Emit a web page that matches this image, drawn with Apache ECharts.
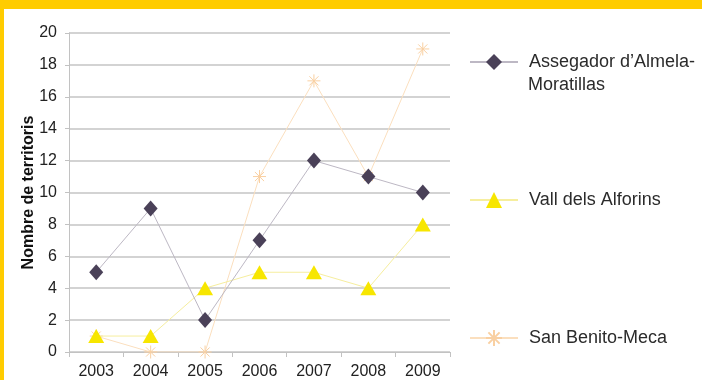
<!DOCTYPE html>
<html>
    <head>
        <meta charset="UTF-8">
        <title>Nombre de territoris</title>
        <script src="https://cdn.jsdelivr.net/npm/echarts@6/dist/echarts.min.js"></script>
        <style>
            html, body {
                margin: 0;
                padding: 0;
                background: #ffffff;
            }
            #chart {
                width: 702px;
                height: 380px;
            }
        </style>
    </head>
    <body>
        <div id="chart"></div>
        <script>
            const years = ['2003', '2004', '2005', '2006', '2007', '2008', '2009'];
            const assegador = [5, 9, 2, 7, 12, 11, 10];
            const vallAlforins = [1, 1, 4, 5, 5, 4, 8];
            const sanBenito = [1, 0, 0, 11, 17, 11, 19];

            const seriesNames = ['Assegador d\u2019Almela-Moratillas', 'Vall dels Alforins', 'San Benito-Meca'];

            const starPath = 'path://M0,5L10,5M5,0L5,10M1.5,1.5L8.5,8.5M8.5,1.5L1.5,8.5';
            const font = '"Liberation Sans", Arial, sans-serif';

            // one legend block per series so each can sit at its own height
            function legendFor(name, top, label) {
                return {
                    data: [name],
                    orient: 'vertical',
                    left: 464,
                    top: top,
                    itemWidth: 48,
                    itemHeight: 20,
                    selectedMode: false,
                    formatter: label ? function () { return label; } : '{name}',
                    textStyle: {
                        fontFamily: font,
                        fontSize: 18,
                        color: '#2b2b2b',
                        lineHeight: 22,
                        padding: [0, 0, 0, 6]
                    }
                };
            }

            const chart = echarts.init(document.getElementById('chart'));

            chart.setOption({
                backgroundColor: '#ffffff',
                animation: false,
                graphic: [
                    { type: 'rect', shape: { x: 0, y: 0, width: 702, height: 9 }, style: { fill: '#ffcc00' }, z: 100 },
                    { type: 'rect', shape: { x: 0, y: 0, width: 4, height: 380 }, style: { fill: '#ffcc00' }, z: 100 },
                    {
                        type: 'text',
                        left: 528,
                        top: 76,
                        style: { text: 'Moratillas', font: '18px ' + font, fill: '#2b2b2b' }
                    }
                ],
                grid: {
                    left: 69,
                    right: 252,
                    top: 33,
                    bottom: 27
                },
                legend: [
                    legendFor(seriesNames[0], 46, 'Assegador d\u2019Almela-'),
                    legendFor(seriesNames[1], 184),
                    legendFor(seriesNames[2], 322)
                ],
                xAxis: {
                    type: 'category',
                    data: years,
                    boundaryGap: true,
                    axisLine: { lineStyle: { color: '#c2c2c2', width: 1 } },
                    axisTick: { show: true, length: 5, lineStyle: { color: '#c2c2c2' } },
                    axisLabel: { fontFamily: font, fontSize: 16, color: '#222222', margin: 12 }
                },
                yAxis: {
                    type: 'value',
                    min: 0,
                    max: 20,
                    interval: 2,
                    name: 'Nombre de territoris',
                    nameLocation: 'middle',
                    nameGap: 32,
                    nameMoveOverlap: false,
                    nameTextStyle: { fontFamily: font, fontSize: 16, fontWeight: 'bold', color: '#111111' },
                    axisLine: { show: true, lineStyle: { color: '#c2c2c2', width: 1 } },
                    axisTick: { show: true, length: 4, lineStyle: { color: '#c2c2c2' } },
                    axisLabel: { fontFamily: font, fontSize: 16, color: '#222222', margin: 12 },
                    splitLine: { lineStyle: { color: '#c4c4c4', width: 1.5 } }
                },
                series: [
                    {
                        name: seriesNames[2],
                        type: 'line',
                        data: sanBenito,
                        symbol: starPath,
                        symbolSize: 13,
                        lineStyle: { color: '#fbdfbe', width: 1 },
                        itemStyle: { color: 'rgba(0,0,0,0)', borderColor: '#f9d0a2', borderWidth: 1 },
                        z: 2
                    },
                    {
                        name: seriesNames[1],
                        type: 'line',
                        data: vallAlforins,
                        symbol: 'triangle',
                        symbolSize: [16, 14],
                        lineStyle: { color: '#f6ee9e', width: 1 },
                        itemStyle: { color: '#f7e600' },
                        z: 3
                    },
                    {
                        name: seriesNames[0],
                        type: 'line',
                        data: assegador,
                        symbol: 'diamond',
                        symbolSize: [14, 16],
                        lineStyle: { color: '#bdb8c4', width: 1 },
                        itemStyle: { color: '#4a4158' },
                        z: 4
                    }
                ]
            });
        </script>
    </body>
</html>
